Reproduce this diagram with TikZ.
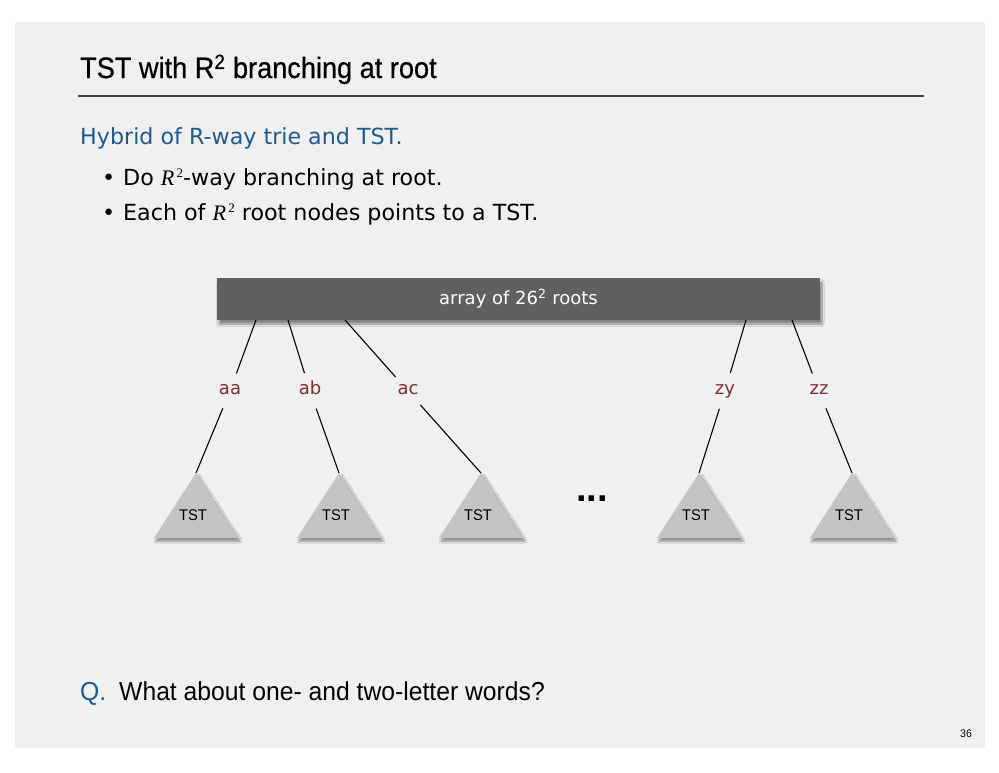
\documentclass[tikz,border=0pt]{standalone}
\usepackage{fontspec}
\setmainfont{DejaVu Sans}
\newfontfamily\bodyf{DejaVu Sans}
\newfontfamily\condf[FakeStretch=0.95]{Liberation Sans}
\newfontfamily\titlef[FakeStretch=0.92,FakeBold=0.6]{Liberation Sans}
\newfontfamily\serifr{Liberation Serif}
\newfontfamily\boldf{Liberation Sans}
\usetikzlibrary{shadows.blur,calc}
\definecolor{slidebg}{RGB}{240,240,240}
\definecolor{hblue}{RGB}{30,90,140}
\definecolor{lblred}{RGB}{128,48,48}
\definecolor{boxgray}{RGB}{96,96,96}
\definecolor{trigray}{RGB}{196,196,196}
\definecolor{rulegray}{RGB}{70,70,70}
\newcommand{\Rsq}{{\serifr\itshape R}\raisebox{0.33em}{\serifr\fontsize{13}{13}\selectfont\,2}}
\tikzset{
  txt/.style={inner sep=0pt, anchor=base west},
  lbl/.style={circle, inner sep=0pt, minimum size=37pt, text height=10pt, text depth=4pt, text=lblred, font=\bodyf\fontsize{18}{20}\selectfont},
  edge/.style={draw=black, line width=1.1pt},
  trishape/.style={fill=trigray, blur shadow={shadow xshift=2pt, shadow yshift=-3pt, shadow blur steps=8, shadow opacity=45}},
  tstlbl/.style={inner sep=0pt, font=\condf\fontsize{15.5}{16}\selectfont},
}
\begin{document}
\begin{tikzpicture}[x=1pt,y=-1pt]
\useasboundingbox (0,0) rectangle (999,772);
\fill[white] (0,0) rectangle (999,772);
\fill[slidebg] (15,22) rectangle (985,748);
% title
\node[txt, font=\titlef\fontsize{29.5}{31}\selectfont] (title) at (80,78) {TST with R\textsuperscript{2} branching at root};
\draw[rulegray, line width=1.3pt] (78,96) -- (924,96);
% body
\node[txt, text=hblue, font=\bodyf\fontsize{22.2}{26}\selectfont] (hyb) at (80,144) {Hybrid of R-way trie and TST.};
\node[txt, font=\bodyf\fontsize{22.2}{26}\selectfont] (b1) at (102,185) {•};
\node[txt, font=\bodyf\fontsize{22.2}{26}\selectfont] (t1) at (123,185) {Do \Rsq-way branching at root.};
\node[txt, font=\bodyf\fontsize{22.2}{26}\selectfont] (b2) at (102,220) {•};
\node[txt, font=\bodyf\fontsize{22.2}{26}\selectfont] (t2) at (123,220) {Each of \Rsq\ root nodes points to a TST.};
% array box
\node[fill=boxgray, minimum width=603pt, minimum height=42pt, inner sep=0pt,
  blur shadow={shadow xshift=2pt, shadow yshift=-4pt, shadow blur steps=8, shadow opacity=45},
  text=white, font=\bodyf\fontsize{18}{20}\selectfont] (arr) at (518.5,299) {array of 26\textsuperscript{2} roots};
\coordinate (paa) at (256,320);
\coordinate (pab) at (288,320);
\coordinate (pac) at (345,320);
\coordinate (pzy) at (746,320);
\coordinate (pzz) at (792,320);
% labels
\node[lbl] (aa) at (230,391) {aa};
\node[lbl] (ab) at (310,391) {ab};
\node[lbl] (ac) at (408,391) {ac};
\node[lbl] (zy) at (725,391) {zy};
\node[lbl] (zz) at (819,391) {zz};
% triangles
\foreach \n/\x in {1/196,2/339,3/481,4/699,5/852}{
  \coordinate (apex\n) at (\x,473);
  \path[trishape] (apex\n) -- ++(-42,65) -- ++(84,0) -- cycle;
  \node[tstlbl] (tst\n) at (\x-3,515) {TST};
}
% edges
\draw[edge] (paa) -- (aa) -- (apex1);
\draw[edge] (pab) -- (ab) -- (apex2);
\draw[edge] (pac) -- (ac) -- (apex3);
\draw[edge] (pzy) -- (zy) -- (apex4);
\draw[edge] (pzz) -- (zz) -- (apex5);
% dots
\node[inner sep=0pt, font=\boldf\bfseries\fontsize{38}{38}\selectfont] (dots) at (592,499) {...};
% question
\node[txt, text=hblue, font=\condf\fontsize{26}{28}\selectfont] (q) at (80,700) {Q.};
\node[txt, font=\condf\fontsize{26}{28}\selectfont] (qt) at (119,700) {What about one- and two-letter words?};
\node[txt, font=\condf\fontsize{11}{12}\selectfont] (pg) at (960,737) {36};
\end{tikzpicture}
\end{document}
